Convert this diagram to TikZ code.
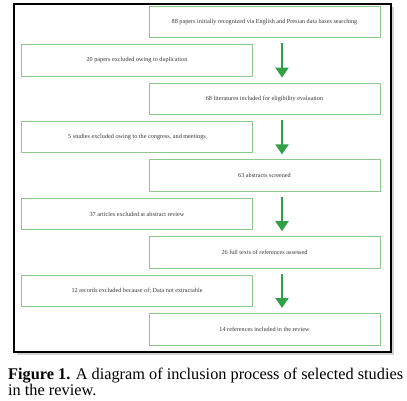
\documentclass[tikz,border=0pt]{standalone}
\usepackage{fontspec}
\setmainfont{Liberation Serif}
\usepackage{xcolor}
\definecolor{boxgreen}{RGB}{140,200,140}
\definecolor{arrowgreen}{RGB}{50,160,70}
\definecolor{boxtext}{RGB}{55,55,55}
\usetikzlibrary{arrows.meta, positioning, calc, shadows}
\tikzset{
  stagebox/.style={
    rectangle, draw=boxgreen, line width=0.9pt, fill=white,
    minimum width=231pt, minimum height=31.5pt, inner sep=0pt,
    align=center, font=\fontsize{6.2}{7}\selectfont, text=boxtext
  },
  flowarrow/.style={line width=2pt, color=arrowgreen,
    -{Triangle[width=13pt,length=10pt]}, shorten <=5pt, shorten >=5pt},
  outerframe/.style={draw=black, line width=1.3pt, fill=white,
    drop shadow={shadow xshift=3pt, shadow yshift=-3pt, fill=black!35}},
}

\begin{document}
\begin{tikzpicture}[x=1pt, y=-1pt, node distance=44.4pt]
  \useasboundingbox (0,0) rectangle (407,401);

  % --- marco exterior ---
  \draw[outerframe] (14,4) rectangle (391,352);

  % --- columna derecha: registros incluidos ---
  \node (r1) [stagebox] at (264.5,22)
        {88 papers initially recognized via English and Presian data bases searching};
  \node (r2) [stagebox, below=of r1] {68 literatures included for eligibility evaluation};
  \node (r3) [stagebox, below=of r2] {63 abstracts screened};
  \node (r4) [stagebox, below=of r3] {26 full texts of references assessed};
  \node (r5) [stagebox, below=of r4] {14 references included in the review};

  % --- columna izquierda: exclusiones (entre dos pasos) ---
  \node (l1) [stagebox, xshift=-127.5pt] at ($(r1.south)!0.5!(r2.north)$)
        {20 papers excluded owing to duplication};
  \node (l2) [stagebox, xshift=-127.5pt] at ($(r2.south)!0.5!(r3.north)$)
        {5 studies excluded owing to the congress, and meetings};
  \node (l3) [stagebox, xshift=-127.5pt] at ($(r3.south)!0.5!(r4.north)$)
        {37 articles excluded at abstract review};
  \node (l4) [stagebox, xshift=-127.5pt] at ($(r4.south)!0.5!(r5.north)$)
        {12 records excluded because of; Data not extractable};

  % --- flechas ---
  \draw[flowarrow] ([xshift=17.5pt]r1.south) -- ([xshift=17.5pt]r2.north);
  \draw[flowarrow] ([xshift=17.5pt]r2.south) -- ([xshift=17.5pt]r3.north);
  \draw[flowarrow] ([xshift=17.5pt]r3.south) -- ([xshift=17.5pt]r4.north);
  \draw[flowarrow] ([xshift=17.5pt]r4.south) -- ([xshift=17.5pt]r5.north);

  % --- pie de figura ---
  \node (caption) [anchor=north west, align=left, inner sep=0pt,
        font=\fontsize{16.3}{16}\selectfont] at (8,368)
        {\textbf{Figure 1.} A diagram of inclusion process of selected studies\\in the review.};

\end{tikzpicture}
\end{document}
